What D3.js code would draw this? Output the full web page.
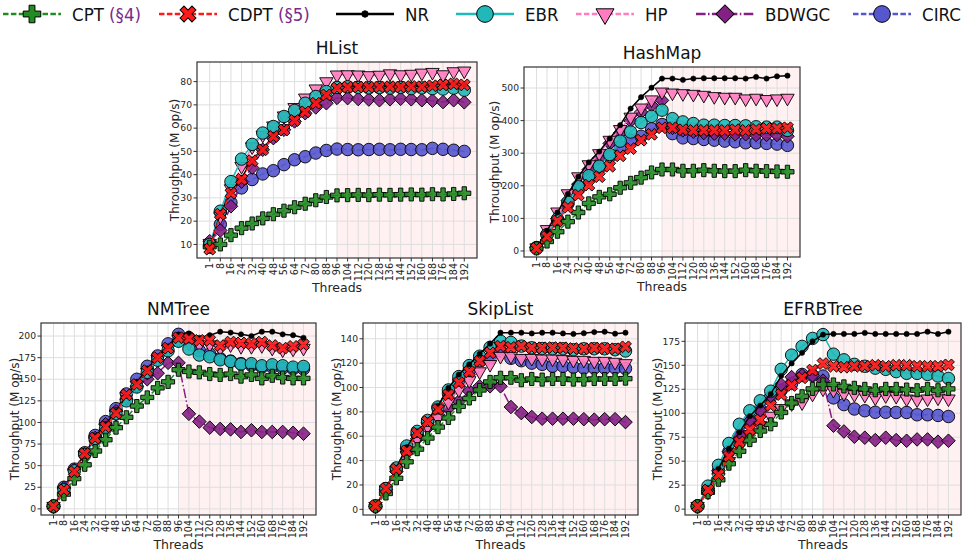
<!DOCTYPE html>
<html>
<head>
<meta charset="utf-8">
<script src="https://cdn.jsdelivr.net/npm/d3@7"></script>
<style>
  body { margin: 0; background: white; }
  text { font-family: "DejaVu Sans", sans-serif; }
</style>
</head>
<body>
<script>
var wd = 967, ht = 553

var threads = [1,8,16,24,32,40,48,56,64,72,80,88,96,104,112,120,128,136,144,152,160,168,176,184,192]

// throughput values (M op/s), one array per scheme, per benchmark
var hlist = {
  CPT:   [9,10,14,17,19,21.2,23,24.5,26,27.5,29,30.4,31.1,31.2,31.3,31.2,31.4,31.3,31.4,31.5,31.4,31.6,31.5,31.7,32],
  CDPT:  [8,23,32,38,46,50.7,56.4,59.2,63.3,67,70.7,74.3,77.2,77.6,77.7,77.6,77.7,77.8,77.7,77.9,77.8,78.2,78.6,79,78.6],
  NR:    [8.5,23.5,32.5,38.5,46.5,51,56.8,59.6,63.6,67.3,71,74.6,77.5,77.8,77.9,77.8,77.9,78,77.9,78.1,78,78.4,78.8,79.2,78.8],
  EBR:   [10,24.3,37,46.7,53,57.9,60.7,65,67.6,70.7,73.6,75.7,77.5,77.8,77.5,77.3,77.4,77.2,77.5,77,77.3,77,76.8,77.2,76.3],
  HP:    [10.5,22,34,43.6,52,57,61,65.3,68.9,73,76.9,80,82.9,83,82.9,82.6,82.8,83.4,83,83.2,83.7,84,83,84.3,84.6],
  BDWGC: [11.4,16,26.4,37,43,50.7,55.7,59.3,62.9,66.4,68.9,70.7,73,72.9,72.5,72.3,72,72.4,72.6,72.4,72,71.8,71.2,72,71.1],
  CIRC:  [10,18.6,28,34.3,37.9,40.3,41.7,44.3,46.4,47.7,49.3,50.4,51,50.8,50.7,50.8,50.9,50.7,50.9,50.8,50.7,51.3,50.9,50.5,50]
}
var hashmap = {
  CPT:   [8,29,59,90,118,146,166,174,194,209,225,241,250,250,246,246,248,246,245,245,248,246,245,244,243],
  CDPT:  [8,44,92,134,172,202,228,260,292,314,340,358,378,378,372,370,370,370,370,372,370,373,376,376,378],
  NR:    [10,62,118,175,228,272,305,345,386,437,472,501,529,529,525,529,530,530,530,530,529,534,529,536,538],
  EBR:   [10,50,98,150,197,231,260,296,337,365,394,413,432,406,396,391,386,386,385,385,384,381,380,380,370],
  HP:    [10,66,120,176,228,265,299,340,373,411,439,464,488,485,483,481,478,474,472,472,467,469,465,467,469],
  BDWGC: [10,52,100,155,205,250,285,330,362,399,426,447,462,378,370,366,362,360,360,358,358,356,356,356,352],
  CIRC:  [10,50,95,145,190,225,255,290,320,340,352,375,388,360,347,345,342,340,337,335,332,332,330,328,324]
}
var nmtree = {
  CPT:   [3,17,35,51,67,80,94,106,119,129,140,147,161,159,158,156,155,156,153,155,151,154,152,151,151],
  CDPT:  [3,22,43,64,82,95,110.6,132,144,160,175,186,198,197,195,195,189,193,192,191,193,189,186,188,190],
  NR:    [3,23,44,64,83,98,113,131,147,162,176,188,202,203,198,201,205,204,202,200,205,205,202,201,198],
  EBR:   [3,22,44,63,80,93,110,125,141,158,172,183,194,185,178,176,172.5,170.6,167.5,168,165.6,166.7,165.6,164,164.8],
  HP:    [3,21,42,62,80,94,110,130,143,158,173,185,196,192,190,190,186,190,188,188,189,186,184,185,186],
  BDWGC: [3,24,45,63,82,98,113,127,142,150,157,169,169,110,101,94,92.5,92,89,91,89,89,89,88,87],
  CIRC:  [3,25,46,65,85,101,116,133,150,165,177,191,202,198,183,179,174,171,168,166,164,164,163,162,162]
}
var skiplist = {
  CPT:   [2.5,13,25.5,39,49.4,58.5,67.5,75,84.5,91,98,104.6,108,108,106,107,106.5,107,107,106.5,106.5,107,107,107,107.3],
  CDPT:  [3,17,33,48,62.6,72,82,94,104,113,121.6,128.5,134,133,134,132.6,132.6,132.8,132.6,132,131.8,132.4,132,131.8,133.4],
  NR:    [2.5,17,34,51,64,73,85,99.6,110.6,119,127.6,136,145,145,145,144.4,145,145,144.4,144,144.6,145.5,145.8,144.2,145],
  EBR:   [2.5,17,34,52,64,73,84,98,109,118,125.7,133,138,137,134,132.6,132,131.8,131.8,131,131.8,131.8,131.8,131,130],
  HP:    [2.5,16,32,47,58,68,75,88,98,105.7,113,119,125.7,125.7,124,124,123.5,123.5,123,122.4,122.4,121.6,121.6,120.8,119.7],
  BDWGC: [2.5,16,31,47,58,67,76,83,88.7,97,101,101,101,84,79,75.8,74.4,74.4,74.4,74.4,74,73.6,74,74,71.6],
  CIRC:  [2.5,17,33,50,62,72,83,95,106,114,122,124,130,124,122,120,119,117.5,117.5,116.7,116,116,116,116,115.6]
}
var efrbtree = {
  CPT:   [3,17.6,30.6,47.4,60.4,72,81.5,88.5,100.8,110.7,117.7,125.4,130,130,128,126.5,125.4,124,125.4,125.4,124.7,124,125.4,124,125.4],
  CDPT:  [3,20,36,55,70,83,93,108,119.5,129,137,145,151.8,149,148,149,149,150,149,150,150,149,149,149,150.4],
  NR:    [3,20,42,63,80,97,108,120,139,152,163,175,182,182.7,182.7,182.7,183.8,182.7,182.7,182.7,182.7,182.7,185,182.7,185],
  EBR:   [3.5,24,45.7,68.5,88.5,102.6,113,123,145.8,160.6,169.7,178,182,161.6,155.7,151,149,147,145.8,143.4,141.6,141.6,140.5,138.8,136.3],
  HP:    [3,18,33,50,65,78,87,97,105,110,111,120,125.4,124,120.5,119.5,118.8,116,118.4,117.7,115,114,115,116,115],
  BDWGC: [3,19,40,60,77,92,103,118,130,137.7,139.5,139.5,134,87,81,75.5,74.5,72,74.5,72,71.3,72.7,72.7,70.3,71.3],
  CIRC:  [3,20,40,60,76,92,104,117,124,131,140.5,139.5,138.8,116,109,104.4,102.6,101,101,100.8,100.8,98.4,98.4,97.7,96.6]
}

var legendOrder = ["CPT","CDPT","NR","EBR","HP","BDWGC","CIRC"]
var drawOrder = ["CIRC","BDWGC","HP","EBR","NR","CPT","CDPT"]

var style = {
  CPT:   {col:"#228b22", dash:"5.5,2.4", sym:d3.symbolCross, size:95, rot:0},
  CDPT:  {col:"#ff1a1a", dash:"5.5,2.4", sym:d3.symbolCross, size:88, rot:45},
  NR:    {col:"#000000", dash:null, sym:d3.symbolCircle, size:22, rot:0},
  EBR:   {col:"#20b8b8", dash:null, sym:d3.symbolCircle, size:122, rot:0},
  HP:    {col:"#ff7cc0", dash:"5.5,2.4", sym:d3.symbolTriangle, size:78, rot:180},
  BDWGC: {col:"#852085", dash:"9.6,2.4,1.5,2.4", sym:d3.symbolSquare, size:92, rot:45},
  CIRC:  {col:"#5656cf", dash:"5.5,2.4", sym:d3.symbolCircle, size:122, rot:0}
}

var panels = [
  {name:"HList",    data:hlist,    left:197, right:477, top:62,  bottom:258, step:10,  labelX:175},
  {name:"HashMap",  data:hashmap,  left:524, right:800, top:67,  bottom:257, step:100, labelX:495},
  {name:"NMTree",   data:nmtree,   left:41,  right:316, top:323, bottom:515, step:25,  labelX:15},
  {name:"SkipList", data:skiplist, left:363, right:638, top:323, bottom:515, step:20,  labelX:337},
  {name:"EFRBTree", data:efrbtree, left:685, right:961, top:323, bottom:515, step:25,  labelX:658}
]

var svgCont = d3.select("body").append("svg")
.attr("width", wd)
.attr("height", ht)

function drawPanel(p) {
  var g = svgCont.append("g")
  var n = threads.length
  var x = d3.scaleLinear().domain([-0.05*(n-1), (n-1)*1.05]).range([p.left, p.right])

  var all = []
  legendOrder.forEach(function(k){ all = all.concat(p.data[k]) })
  var ext = d3.extent(all)
  var pad = (ext[1]-ext[0])*0.05
  var y = d3.scaleLinear().domain([ext[0]-pad, ext[1]+pad]).range([p.bottom, p.top])

  // shaded oversubscription region
  g.append("rect")
  .attr("x", x(threads.indexOf(96)))
  .attr("y", p.top)
  .attr("width", p.right - x(threads.indexOf(96)))
  .attr("height", p.bottom - p.top)
  .attr("fill", "#fff1f1")

  var yt = d3.range(Math.ceil(y.domain()[0]/p.step)*p.step, y.domain()[1], p.step)

  // grid
  g.selectAll(".vg").data(threads).enter().append("line")
  .attr("x1", function(d,i){return x(i)}).attr("x2", function(d,i){return x(i)})
  .attr("y1", p.top).attr("y2", p.bottom)
  .attr("stroke", "#dedede").attr("stroke-width", 1)
  g.selectAll(".hg").data(yt).enter().append("line")
  .attr("x1", p.left).attr("x2", p.right)
  .attr("y1", function(d){return y(d)}).attr("y2", function(d){return y(d)})
  .attr("stroke", "#dedede").attr("stroke-width", 1)

  var line = d3.line()
  .x(function(d,i){return x(i)})
  .y(function(d){return y(d)})

  drawOrder.forEach(function(k){
    var s = style[k]
    var vals = p.data[k]
    g.append("path")
    .attr("d", line(vals))
    .attr("fill", "none")
    .attr("stroke", s.col)
    .attr("stroke-width", 1.5)
    .attr("stroke-dasharray", s.dash)

    var sym = d3.symbol().type(s.sym).size(s.size)
    g.selectAll(".m" + k).data(vals).enter().append("path")
    .attr("d", sym)
    .attr("transform", function(d,i){return "translate(" + x(i) + "," + y(d) + ") rotate(" + s.rot + ")"})
    .attr("fill", s.col)
    .attr("fill-opacity", k == "NR" ? 1 : 0.9)
    .attr("stroke", "#000")
    .attr("stroke-width", k == "NR" ? 0.5 : 0.9)
  })

  // frame
  g.append("rect")
  .attr("x", p.left).attr("y", p.top)
  .attr("width", p.right-p.left).attr("height", p.bottom-p.top)
  .attr("fill", "none").attr("stroke", "#333").attr("stroke-width", 1.2)

  // y ticks
  yt.forEach(function(v){
    g.append("line").attr("x1", p.left-3.5).attr("x2", p.left)
    .attr("y1", y(v)).attr("y2", y(v)).attr("stroke", "#333")
    g.append("text").attr("x", p.left-5).attr("y", y(v)).attr("dy", "0.35em")
    .attr("text-anchor", "end").attr("font-size", 9.2).attr("fill", "#262626")
    .text(v)
  })

  // x ticks
  threads.forEach(function(t,i){
    g.append("line").attr("x1", x(i)).attr("x2", x(i))
    .attr("y1", p.bottom).attr("y2", p.bottom+3.5).attr("stroke", "#333")
    g.append("text")
    .attr("transform", "translate(" + x(i) + "," + (p.bottom+5) + ") rotate(-90)")
    .attr("dy", "0.35em")
    .attr("text-anchor", "end").attr("font-size", 9.6).attr("fill", "#262626")
    .text(t)
  })

  g.append("text")
  .attr("x", (p.left+p.right)/2).attr("y", p.bottom+34)
  .attr("text-anchor", "middle").attr("font-size", 12.5).attr("fill", "#262626")
  .text("Threads")

  g.append("text")
  .attr("transform", "translate(" + p.labelX + "," + (p.top+p.bottom)/2 + ") rotate(-90)")
  .attr("dy", "0.35em")
  .attr("text-anchor", "middle").attr("font-size", 12).attr("fill", "#262626")
  .text("Throughput (M op/s)")

  g.append("text")
  .attr("x", (p.left+p.right)/2).attr("y", p.top-8)
  .attr("text-anchor", "middle").attr("font-size", 17).attr("fill", "#111")
  .text(p.name)
}

panels.forEach(drawPanel)

// legend
var legX = [3, 159, 336, 456, 576, 696, 853]
var leg = svgCont.append("g")
legendOrder.forEach(function(k,i){
  var s = style[k]
  var lx = legX[i], ly = 14
  leg.append("line")
  .attr("x1", lx).attr("x2", lx+58).attr("y1", ly).attr("y2", ly)
  .attr("stroke", s.col).attr("stroke-width", 2.6)
  .attr("stroke-dasharray", s.dash)
  leg.append("path")
  .attr("d", d3.symbol().type(s.sym).size(k == "NR" ? 32 : s.size*1.8))
  .attr("transform", "translate(" + (lx+29) + "," + ly + ") rotate(" + s.rot + ")")
  .attr("fill", s.col).attr("stroke", "#000").attr("stroke-width", 1)
  var t = leg.append("text")
  .attr("x", lx+69).attr("y", ly+6.5)
  .attr("font-size", 18.5)
  .attr("font-family", "'DejaVu Sans Condensed', 'DejaVu Sans', sans-serif")
  .attr("font-stretch", "condensed")
  .attr("fill", "#111")
  if (k == "CPT" || k == "CDPT") {
    t.append("tspan").text(k + " ")
    t.append("tspan").attr("fill", "#7a2a8a").text(k == "CPT" ? "(§4)" : "(§5)")
  } else {
    t.text(k)
  }
})
</script>
</body>
</html>
